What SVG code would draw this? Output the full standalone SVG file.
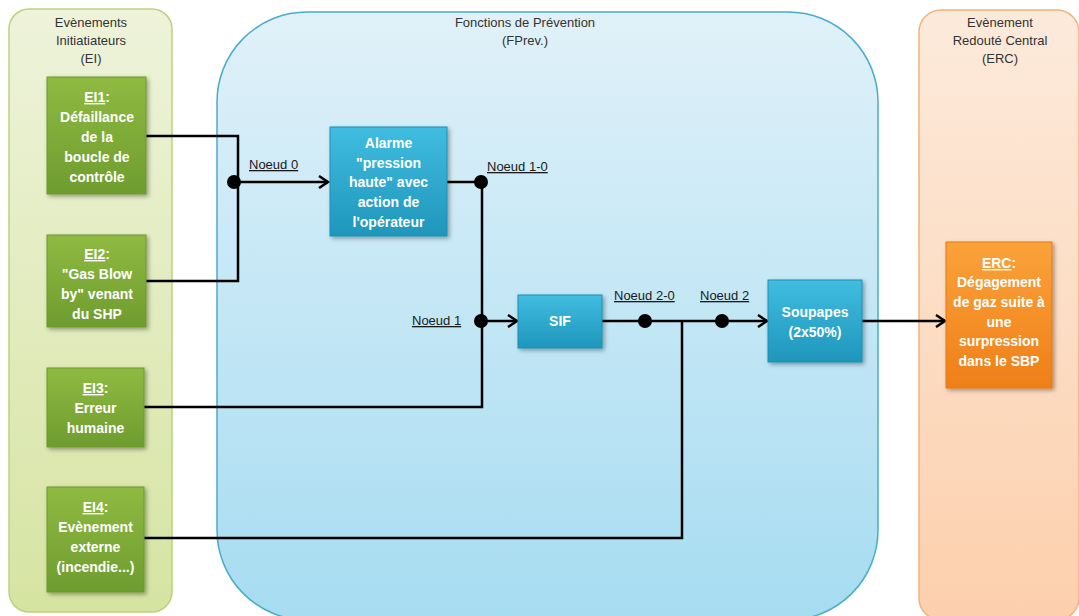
<svg xmlns="http://www.w3.org/2000/svg" width="1079" height="616" viewBox="0 0 1079 616">
<defs>
<linearGradient id="gCont" x1="0" y1="0" x2="0" y2="1"><stop offset="0" stop-color="#eef3da"/><stop offset="1" stop-color="#d6e4a2"/></linearGradient>
<linearGradient id="bCont" x1="0" y1="0" x2="0" y2="1"><stop offset="0" stop-color="#e0f1f9"/><stop offset="1" stop-color="#a6dcf1"/></linearGradient>
<linearGradient id="oCont" x1="0" y1="0" x2="0" y2="1"><stop offset="0" stop-color="#fdeadb"/><stop offset="1" stop-color="#fcd0ad"/></linearGradient>
<linearGradient id="gBox" x1="0" y1="0" x2="0" y2="1"><stop offset="0" stop-color="#8fba42"/><stop offset="1" stop-color="#6e9c2e"/></linearGradient>
<linearGradient id="bBox" x1="0" y1="0" x2="0" y2="1"><stop offset="0" stop-color="#40bde0"/><stop offset="1" stop-color="#1f96bb"/></linearGradient>
<linearGradient id="oBox" x1="0" y1="0" x2="0" y2="1"><stop offset="0" stop-color="#fba23a"/><stop offset="1" stop-color="#ef7f18"/></linearGradient>
<filter id="sh" x="-20%" y="-20%" width="150%" height="150%"><feDropShadow dx="2" dy="2" stdDeviation="2" flood-color="#000" flood-opacity="0.35"/></filter>
<marker id="arr" markerUnits="userSpaceOnUse" markerWidth="14" markerHeight="14" refX="11" refY="7" orient="auto"><path d="M2,1 L11,7 L2,13" fill="none" stroke="#000" stroke-width="2.5"/></marker>
<style>
.title{font-family:"Liberation Sans",Arial,sans-serif;font-size:13px;fill:#333;text-anchor:middle}
.bt{font-family:"Liberation Sans",Arial,sans-serif;font-size:14px;font-weight:bold;fill:#fff;text-anchor:middle}
.u{text-decoration:underline}
.lbl{font-family:"Liberation Sans",Arial,sans-serif;font-size:13px;fill:#1a1a1a;text-decoration:underline}
.ln{fill:none;stroke:#000;stroke-width:2.5}
.dot{fill:#000}
.gb{fill:url(#gBox);stroke:#6a9a2a;stroke-width:1;filter:url(#sh)}
.bb{fill:url(#bBox);stroke:#1c8fb3;stroke-width:1;filter:url(#sh)}
.ob{fill:url(#oBox);stroke:#e07a10;stroke-width:1;filter:url(#sh)}
</style>
</defs>
<rect width="1079" height="616" fill="#fff"/>
<g id="containers">
<g id="cont-EI"><rect x="9" y="9" width="163" height="603" rx="20" fill="url(#gCont)" stroke="#bcd27e" stroke-width="1.5"/>
<text class="title" x="91" y="27">Evènements</text><text class="title" x="91" y="45">Initiatiateurs</text><text class="title" x="91" y="63">(EI)</text></g>
<g id="cont-FPrev"><rect x="217" y="12" width="661" height="608" rx="90" fill="url(#bCont)" stroke="#4aaccc" stroke-width="1.5"/>
<text class="title" x="525" y="27">Fonctions de Prévention</text><text class="title" x="525" y="45">(FPrev.)</text></g>
<g id="cont-ERC"><rect x="919" y="10" width="160" height="610" rx="22" fill="url(#oCont)" stroke="#f2b27a" stroke-width="1.5"/>
<text class="title" x="1000" y="27">Evènement</text><text class="title" x="1000" y="45">Redouté Central</text><text class="title" x="1000" y="63">(ERC)</text></g>
</g>
<g id="connectors">
<path class="ln" d="M146 136 H238 V281 H146"/>
<path class="ln" d="M238 182 H328" marker-end="url(#arr)"/>
<path class="ln" d="M447 182 H482 V407 H144"/>
<path class="ln" d="M482 321 H517" marker-end="url(#arr)"/>
<path class="ln" d="M602 321 H767" marker-end="url(#arr)"/>
<path class="ln" d="M144 538 H682 V321"/>
<path class="ln" d="M862 321 H945" marker-end="url(#arr)"/>
<circle class="dot" cx="234" cy="182" r="7"/>
<circle class="dot" cx="481" cy="182" r="7"/>
<circle class="dot" cx="481" cy="321" r="7"/>
<circle class="dot" cx="645" cy="321" r="7"/>
<circle class="dot" cx="722" cy="321" r="7"/>
<text class="lbl" x="249" y="169">Noeud 0</text>
<text class="lbl" x="487" y="171">Noeud 1-0</text>
<text class="lbl" x="412" y="325">Noeud 1</text>
<text class="lbl" x="614" y="300">Noeud 2-0</text>
<text class="lbl" x="700" y="300">Noeud 2</text>
</g>
<g id="EI1"><rect class="gb" x="47" y="77" width="99" height="117"/>
<text class="bt" x="97" y="102"><tspan class="u">EI1</tspan>:</text><text class="bt" x="97" y="122">Défaillance</text><text class="bt" x="97" y="142">de la</text><text class="bt" x="97" y="162">boucle de</text><text class="bt" x="97" y="182">contrôle</text></g>
<g id="EI2"><rect class="gb" x="47" y="235" width="99" height="92"/>
<text class="bt" x="97" y="259"><tspan class="u">EI2</tspan>:</text><text class="bt" x="97" y="279">"Gas Blow</text><text class="bt" x="97" y="299">by" venant</text><text class="bt" x="97" y="319">du SHP</text></g>
<g id="EI3"><rect class="gb" x="47" y="368" width="97" height="79"/>
<text class="bt" x="95.5" y="393"><tspan class="u">EI3</tspan>:</text><text class="bt" x="95.5" y="413">Erreur</text><text class="bt" x="95.5" y="433">humaine</text></g>
<g id="EI4"><rect class="gb" x="47" y="487" width="97" height="105"/>
<text class="bt" x="95.5" y="512"><tspan class="u">EI4</tspan>:</text><text class="bt" x="95.5" y="532">Evènement</text><text class="bt" x="95.5" y="552">externe</text><text class="bt" x="95.5" y="572">(incendie...)</text></g>
<g id="Alarme"><rect class="bb" x="330" y="127" width="117" height="109"/>
<text class="bt" x="388.5" y="148">Alarme</text><text class="bt" x="388.5" y="168">"pression</text><text class="bt" x="388.5" y="187">haute" avec</text><text class="bt" x="388.5" y="207">action de</text><text class="bt" x="388.5" y="227">l'opérateur</text></g>
<g id="SIF"><rect class="bb" x="518" y="295" width="84" height="53"/>
<text class="bt" x="560" y="326">SIF</text></g>
<g id="Soupapes"><rect class="bb" x="768" y="280" width="94" height="82"/>
<text class="bt" x="815" y="317">Soupapes</text><text class="bt" x="815" y="337">(2x50%)</text></g>
<g id="ERC"><rect class="ob" x="946" y="242" width="106" height="146"/>
<text class="bt" x="999" y="268"><tspan class="u">ERC</tspan>:</text><text class="bt" x="999" y="287">Dégagement</text><text class="bt" x="999" y="307">de gaz suite à</text><text class="bt" x="999" y="327">une</text><text class="bt" x="999" y="346">surpression</text><text class="bt" x="999" y="366">dans le SBP</text></g>
</svg>
